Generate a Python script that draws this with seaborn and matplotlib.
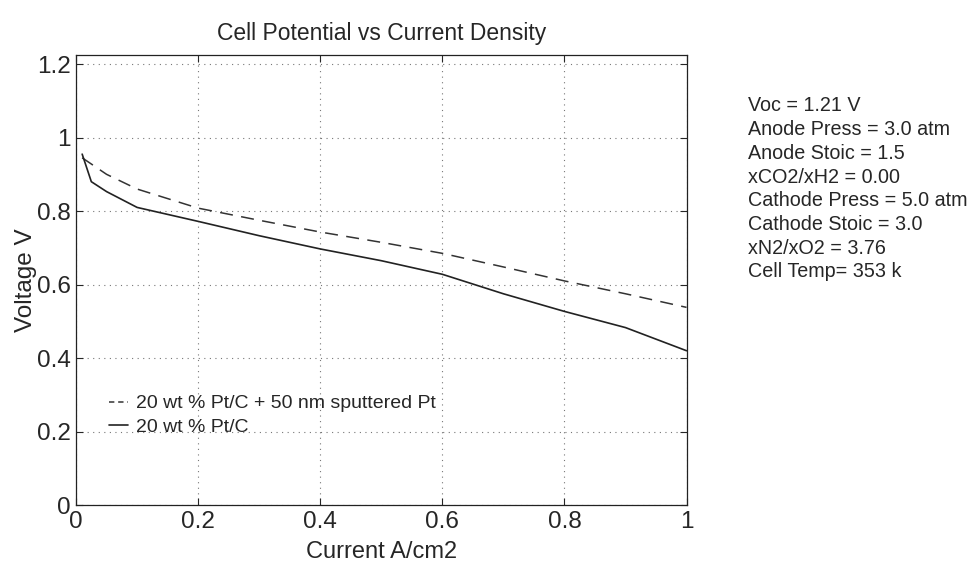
import matplotlib
matplotlib.use("Agg")
import matplotlib.pyplot as plt
import seaborn as sns
import pandas as pd

# Data
current_sputtered = [0.01, 0.05, 0.1, 0.2, 0.3, 0.4, 0.5, 0.6, 0.7, 0.8, 0.9, 1.0]
voltage_sputtered = [0.945, 0.90, 0.86, 0.808, 0.775, 0.743, 0.715, 0.685, 0.648, 0.61, 0.575, 0.538]

current_base = [0.01, 0.025, 0.05, 0.1, 0.2, 0.3, 0.4, 0.5, 0.6, 0.7, 0.8, 0.9, 1.0]
voltage_base = [0.955, 0.88, 0.853, 0.81, 0.772, 0.733, 0.697, 0.665, 0.628, 0.575, 0.527, 0.483, 0.42]

series_labels = ["20 wt % Pt/C + 50 nm sputtered Pt", "20 wt % Pt/C"]
x_ticks = [0, 0.2, 0.4, 0.6, 0.8, 1.0]
x_tick_labels = ["0", "0.2", "0.4", "0.6", "0.8", "1"]
y_ticks = [0, 0.2, 0.4, 0.6, 0.8, 1.0, 1.2]
y_tick_labels = ["0", "0.2", "0.4", "0.6", "0.8", "1", "1.2"]
info_lines = ["Voc = 1.21 V", "Anode Press = 3.0 atm", "Anode Stoic = 1.5",
              "xCO2/xH2 = 0.00", "Cathode Press = 5.0 atm", "Cathode Stoic = 3.0",
              "xN2/xO2 = 3.76", "Cell Temp= 353 k"]

sns.set_style("ticks")
plt.rcParams['font.family'] = ['Liberation Sans', 'DejaVu Sans']

df1 = pd.DataFrame({"I": current_sputtered, "V": voltage_sputtered})
df2 = pd.DataFrame({"I": current_base, "V": voltage_base})

fig = plt.figure(figsize=(9.69, 5.72), dpi=100)
ax = fig.add_axes([0.0785, 0.117, 0.63, 0.787])

sns.lineplot(data=df1, x="I", y="V", ax=ax, color="#333333", linewidth=1.1,
             linestyle=(0, (8.5, 5.5)), label=series_labels[0])
sns.lineplot(data=df2, x="I", y="V", ax=ax, color="#222222", linewidth=1.2,
             linestyle="-", label=series_labels[1])

ax.set_xlim(0, 1)
ax.set_ylim(0, 1.225)
ax.set_xticks(x_ticks)
ax.set_xticklabels(x_tick_labels)
ax.set_yticks(y_ticks)
ax.set_yticklabels(y_tick_labels)
ax.tick_params(direction="in", top=True, right=True, labelsize=17.5, length=5, width=0.8, pad=4)
for s in ax.spines.values():
    s.set_visible(True)
    s.set_linewidth(0.9)
    s.set_color("#222222")
ax.grid(True, linestyle=(0, (1, 4)), color="#777777", linewidth=0.8)

ax.set_xlabel("Current A/cm2", fontsize=17, labelpad=6)
ax.set_ylabel("Voltage V", fontsize=17.5, labelpad=0)
ax.set_title("Cell Potential vs Current Density", fontsize=16.5, pad=11)

leg = ax.legend(loc="lower left", bbox_to_anchor=(0.025, 0.115), frameon=False,
                fontsize=14, handlelength=1.0, handletextpad=0.4, labelspacing=0.3)
leg_lines = leg.get_lines()
leg_lines[0].set_linestyle((0, (3.5, 2.5)))

y0 = 0.815
for i, line in enumerate(info_lines):
    fig.text(0.772, y0 - i * 0.0415, line, fontsize=14.2, va="center", ha="left")

fig.savefig("out.png", dpi=100)
